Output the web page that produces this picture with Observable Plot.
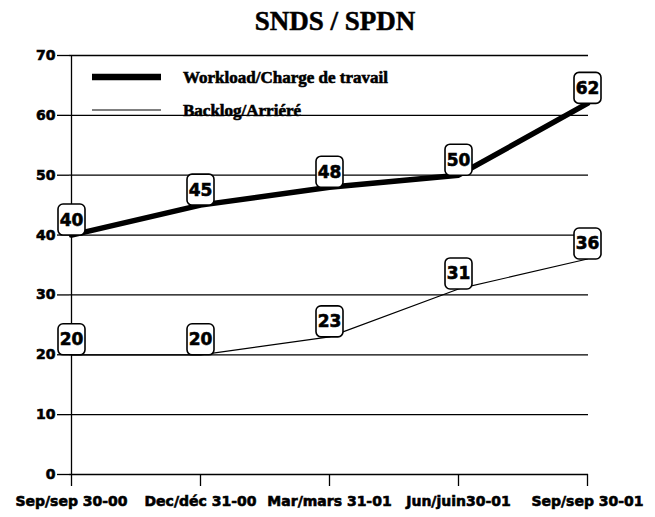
<!DOCTYPE html>
<html>
<head>
<meta charset="utf-8">
<script src="https://cdn.jsdelivr.net/npm/d3@7"></script>
<script src="https://cdn.jsdelivr.net/npm/@observablehq/plot@0.6"></script>
<style>
  html, body { margin: 0; padding: 0; background: #fff; }
  #wrap { position: relative; width: 655px; height: 517px; }
  #title { height: 40px; line-height: 42px; text-align: center; font-family: "Liberation Serif", serif; font-weight: bold; font-size: 27px; color: #000; padding-left: 15px; box-sizing: border-box; -webkit-text-stroke: 0.5px #000; }
  #legend { position: absolute; left: 0; top: 0; width: 655px; height: 517px; pointer-events: none; }
  #chart svg text, #legend text { stroke: #000; stroke-width: 0.6px; }
</style>
</head>
<body>
<div id="wrap">
  <div id="title">SNDS / SPDN</div>
  <div id="chart"></div>
  <svg id="legend" width="655" height="517"></svg>
</div>
<script>
const categories = ["Sep/sep 30-00", "Dec/déc 31-00", "Mar/mars 31-01", "Jun/juin30-01", "Sep/sep 30-01"];
const workload = [40, 45, 48, 50, 62];
const backlog = [20, 20, 23, 31, 36];
const yTicks = [0, 10, 20, 30, 40, 50, 60, 70];
const seriesNames = ["Workload/Charge de travail", "Backlog/Arriéré"];

const rows = [];
categories.forEach((c, i) => {
  rows.push({cat: c, value: workload[i], series: seriesNames[0]});
  rows.push({cat: c, value: backlog[i], series: seriesNames[1]});
});
const wRows = rows.filter(d => d.series === seriesNames[0]);
const bRows = rows.filter(d => d.series === seriesNames[1]);

// rounded box symbol for value labels
const roundBox = {
  draw(ctx) {
    const w = 13.5, h = 15.5, r = 5;
    ctx.moveTo(-w + r, -h);
    ctx.lineTo(w - r, -h);
    ctx.arcTo(w, -h, w, -h + r, r);
    ctx.lineTo(w, h - r);
    ctx.arcTo(w, h, w - r, h, r);
    ctx.lineTo(-w + r, h);
    ctx.arcTo(-w, h, -w, h - r, r);
    ctx.lineTo(-w, -h + r);
    ctx.arcTo(-w, -h, -w + r, -h, r);
    ctx.closePath();
  }
};

const tickFont = {fontFamily: "DejaVu Sans", fontWeight: "bold"};

const chart = Plot.plot({
  width: 655,
  height: 477,
  marginTop: 15,
  marginBottom: 43,
  marginLeft: 69,
  marginRight: 67,
  style: {fontFamily: "DejaVu Sans", fontWeight: "bold", fontSize: "14px", color: "#000", background: "#fff"},
  x: {type: "point", domain: categories, padding: 0},
  y: {domain: [0, 70]},
  marks: [
    Plot.ruleY(yTicks, {stroke: "#000", strokeWidth: 1.3}),
    Plot.ruleX([categories[0]], {y1: 0, y2: 70, stroke: "#000", strokeWidth: 1.3}),
    Plot.axisY({ticks: yTicks, tickSize: 12, tickPadding: 2, stroke: "#000", strokeWidth: 1.3, label: null, fontSize: 14, ...tickFont}),
    Plot.axisX({tickSize: 12, tickPadding: 10, stroke: "#000", strokeWidth: 1.3, label: null, fontSize: 14, ...tickFont}),
    Plot.line(wRows, {x: "cat", y: "value", stroke: "#000", strokeWidth: 5.5}),
    Plot.line(bRows, {x: "cat", y: "value", stroke: "#000", strokeWidth: 1.2}),
    Plot.dot(rows, {x: "cat", y: "value", symbol: roundBox, fill: "#fff", stroke: "#000", strokeWidth: 1.6, dy: -15.5}),
    Plot.text(rows, {x: "cat", y: "value", text: d => String(d.value), dy: -15, fill: "#000", fontSize: 17, fontFamily: "DejaVu Sans", fontWeight: "bold"})
  ]
});
document.getElementById("chart").appendChild(chart);

// legend overlay
const lg = d3.select("#legend");
const legendItems = [
  {name: seriesNames[0], y: 77, sw: 6.5},
  {name: seriesNames[1], y: 110, sw: 1.2}
];
legendItems.forEach(it => {
  lg.append("line").attr("x1", 92).attr("x2", 161).attr("y1", it.y).attr("y2", it.y)
    .attr("stroke", "#000").attr("stroke-width", it.sw);
  lg.append("text").attr("x", 183).attr("y", it.y).attr("dy", "0.35em")
    .attr("font-family", "Liberation Serif").attr("font-weight", "bold").attr("font-size", 17)
    .attr("fill", "#000").text(it.name);
});
</script>
</body>
</html>
